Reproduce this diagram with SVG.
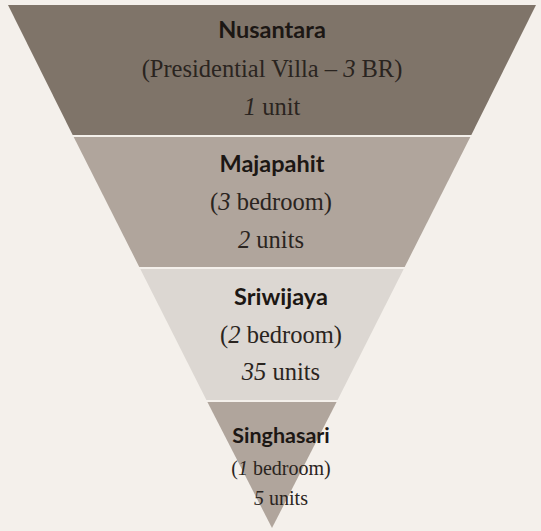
<svg xmlns="http://www.w3.org/2000/svg" width="541" height="531" viewBox="0 0 541 531">
  <style>
    .title { font-family: "Lato", "Noto Sans", sans-serif; font-weight: bold; font-size: 23.5px; fill: #1c1714; text-anchor: middle; }
    .body { font-family: "Liberation Serif", "DejaVu Serif", serif; font-size: 24.5px; fill: #2a2420; text-anchor: middle; }
    .small .title { font-size: 21.5px; }
    .small .body { font-size: 20px; }
    .num { font-style: italic; }
  </style>
  <rect width="541" height="531" fill="#f4f0eb"/>

  <!-- tier 1 -->
  <g id="nusantara">
    <polygon points="8,5 536,5 471.3,135 72.7,135" fill="#7f7469"/>
    <text class="title" x="272" y="38">Nusantara</text>
    <text class="body" x="272" y="77">(Presidential Villa – <tspan class="num">3</tspan> BR)</text>
    <text class="body" x="272" y="115"><tspan class="num">1</tspan> unit</text>
  </g>

  <!-- tier 2 -->
  <g id="majapahit">
    <polygon points="73.7,137 470.3,137 404.7,267 139.3,267" fill="#b0a59c"/>
    <text class="title" x="272" y="172">Majapahit</text>
    <text class="body" x="271" y="210">(<tspan class="num">3</tspan> bedroom)</text>
    <text class="body" x="271" y="248"><tspan class="num">2</tspan> units</text>
  </g>

  <!-- tier 3 -->
  <g id="sriwijaya">
    <polygon points="140.3,269 403.7,269 337.6,400 206.4,400" fill="#dcd7d2"/>
    <text class="title" x="281" y="305">Sriwijaya</text>
    <text class="body" x="281" y="343">(<tspan class="num">2</tspan> bedroom)</text>
    <text class="body" x="281" y="380"><tspan class="num">35</tspan> units</text>
  </g>

  <!-- tier 4 -->
  <g id="singhasari" class="small">
    <polygon points="207.4,402 336.6,402 272,528" fill="#b0a59c"/>
    <text class="title" x="281" y="443">Singhasari</text>
    <text class="body" x="281" y="475">(<tspan class="num">1</tspan> bedroom)</text>
    <text class="body" x="281" y="505"><tspan class="num">5</tspan> units</text>
  </g>

  <g id="connectors"/>
</svg>
